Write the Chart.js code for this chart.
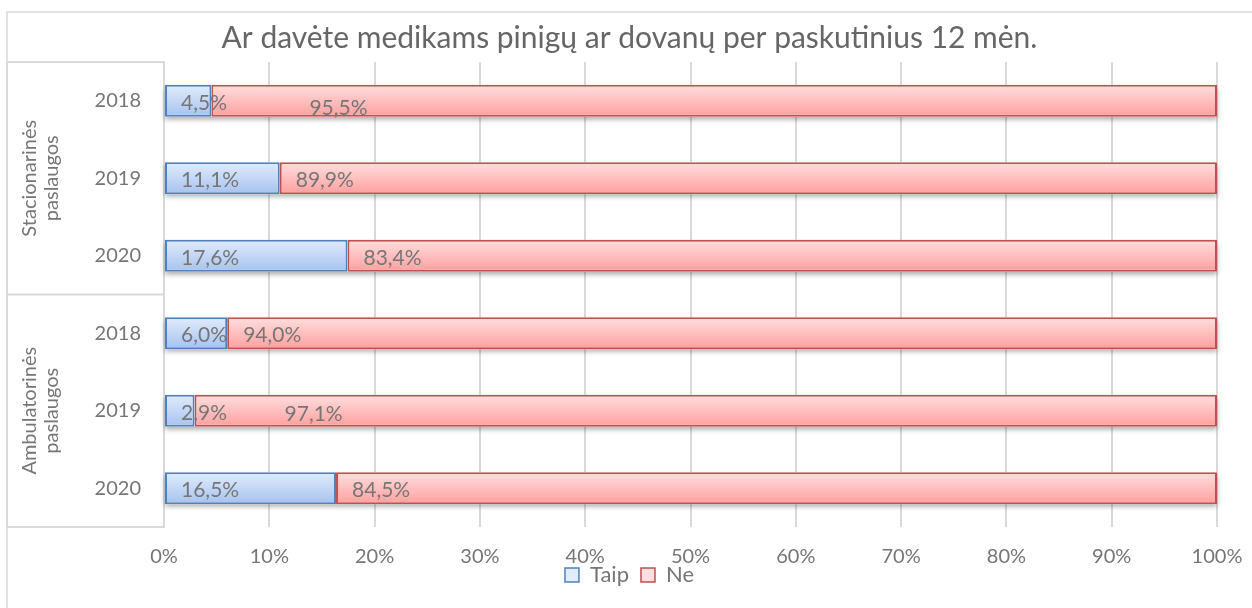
<!DOCTYPE html>
<html>
<head>
<meta charset="utf-8">
<script src="https://cdn.jsdelivr.net/npm/chart.js@4"></script>
<style>
  html, body { margin: 0; padding: 0; background: #fff; }
  #wrap { width: 1252px; height: 608px; }
</style>
</head>
<body>
<div id="wrap"><canvas id="myChart" width="1252" height="608"></canvas></div>
<script>
const titleText = 'Ar davėte medikams pinigų ar dovanų per paskutinius 12 mėn.';
const groups = ['Stacionarinės paslaugos', 'Ambulatorinės paslaugos'];
const years = ['2018', '2019', '2020'];
const taip = [4.5, 11.1, 17.6, 6.0, 2.9, 16.5];
const ne = [95.5, 89.9, 83.4, 94.0, 97.1, 84.5];
const xTicks = [0, 10, 20, 30, 40, 50, 60, 70, 80, 90, 100];

// category labels: years repeated per group
const labels = [];
groups.forEach(() => years.forEach(y => labels.push(y)));

// 100% stacked, like Excel
function share(a, b) {
    return a.map((v, i) => v / (v + b[i]) * 100);
}

const FONT = 'Lato';
const GRAY = '#767676';
const LINE = '#d9d9d9';
const fills = [['#e1ecfc', '#a6c2ef'], ['#ffdfdf', '#ff9e9e']];

// labels that were moved by hand in the original
const labelNudge = { '1-0': [82, 5], '1-4': [74, 1] };

// vertical gradient fill + soft shadow under each bar
const barLook = {
    id: 'barLook',
    beforeDatasetsDraw(chart) {
        const c = chart.ctx;
        const metas = chart.data.datasets.map((d, i) => chart.getDatasetMeta(i));
        c.save();
        c.shadowColor = 'rgba(0,0,0,0.32)';
        c.shadowBlur = 5;
        c.shadowOffsetY = 3;
        c.fillStyle = '#fff';
        metas[0].data.forEach((bar, i) => {
            const last = metas[metas.length - 1].data[i];
            const h = bar.height;
            c.fillRect(bar.base, bar.y - h / 2, last.x - bar.base, h);
        });
        c.restore();
        metas.forEach((meta, di) => {
            meta.data.forEach(bar => {
                const h = bar.height;
                const g = c.createLinearGradient(0, bar.y - h / 2, 0, bar.y + h / 2);
                g.addColorStop(0, fills[di][0]);
                g.addColorStop(1, fills[di][1]);
                bar.options.backgroundColor = g;
            });
        });
    }
};

const valueLabels = {
    id: 'valueLabels',
    afterDatasetsDraw(chart) {
        const c = chart.ctx;
        c.save();
        c.font = '21px ' + FONT;
        c.fillStyle = GRAY;
        c.textBaseline = 'middle';
        c.textAlign = 'left';
        const raw = [taip, ne];
        chart.data.datasets.forEach((ds, di) => {
            chart.getDatasetMeta(di).data.forEach((bar, i) => {
                const left = Math.min(bar.x, bar.base);
                const n = labelNudge[di + '-' + i] || [0, 0];
                const txt = raw[di][i].toFixed(1).replace('.', ',') + '%';
                c.fillText(txt, left + 16 + n[0], bar.y + 2 + n[1]);
            });
        });
        c.restore();
    }
};

const categoryTable = {
    id: 'categoryTable',
    afterLayout(chart) {
        // let the x labels reach under the legend without being clipped
        chart.scales.x.bottom = chart.scales.x.top + 50;
    },
    beforeDraw(chart) {
        const c = chart.ctx;
        const a = chart.chartArea;
        const y = chart.scales.y;
        const x0 = 7;
        c.save();
        // outer frame
        c.strokeStyle = LINE;
        c.lineWidth = 1.5;
        c.beginPath();
        c.moveTo(x0, chart.height + 5);
        c.lineTo(x0, 12);
        c.lineTo(chart.width + 5, 12);
        c.stroke();
        // table lines
        c.lineWidth = 2;
        c.beginPath();
        const step = y.getPixelForValue(1) - y.getPixelForValue(0);
        for (let g = 0; g <= groups.length; g++) {
            const yy = y.getPixelForValue(g * years.length) - step / 2;
            c.moveTo(x0, yy);
            c.lineTo(a.left, yy);
        }
        c.moveTo(x0, a.top);
        c.lineTo(x0, a.bottom);
        c.stroke();
        // group labels, rotated, two lines
        c.fillStyle = GRAY;
        c.font = '20px ' + FONT;
        c.textAlign = 'center';
        c.textBaseline = 'middle';
        groups.forEach((name, g) => {
            const mid = y.getPixelForValue(g * years.length + 1);
            const parts = name.split(' ');
            c.save();
            c.translate(41, mid);
            c.rotate(-Math.PI / 2);
            c.fillText(parts[0], 0, -11);
            c.fillText(parts[1], 0, 11);
            c.restore();
        });
        c.restore();
    }
};

const ctx = document.getElementById('myChart');

new Chart(ctx, {
    type: 'bar',
    data: {
        labels: labels,
        datasets: [{
            label: 'Taip',
            data: share(taip, ne),
            backgroundColor: () => fills[0][1],
            borderColor: '#4f81bd',
            borderWidth: 2,
            borderSkipped: false
        }, {
            label: 'Ne',
            data: share(ne, taip),
            backgroundColor: () => fills[1][1],
            borderColor: '#c0504d',
            borderWidth: 2,
            borderSkipped: false
        }]
    },
    options: {
        indexAxis: 'y',
        responsive: false,
        animation: false,
        layout: { padding: { top: 12, left: 7, right: 0, bottom: 12 } },
        datasets: { bar: { categoryPercentage: 1, barPercentage: 0.413 } },
        scales: {
            x: {
                stacked: true,
                min: 0,
                max: 100,
                afterBuildTicks: s => { s.ticks = xTicks.map(v => ({ value: v })); },
                ticks: {
                    callback: v => v + '%',
                    color: GRAY,
                    font: { family: FONT, size: 20 },
                    padding: 18,
                    maxRotation: 0
                },
                grid: { color: LINE, lineWidth: 2, drawTicks: false },
                border: { display: false },
                afterFit: s => { s.height = 25; s.paddingRight = 35; }
            },
            y: {
                stacked: true,
                ticks: {
                    color: GRAY,
                    font: { family: FONT, size: 20 },
                    padding: 23
                },
                grid: { display: false, drawTicks: false },
                border: { color: LINE, width: 2 },
                afterFit: s => { s.width = 157; }
            }
        },
        plugins: {
            title: {
                display: true,
                text: titleText,
                color: '#666',
                font: { family: FONT, size: 30, weight: 'normal' },
                padding: { top: 8, bottom: 6 }
            },
            legend: {
                position: 'bottom',
                labels: {
                    color: GRAY,
                    font: { family: FONT, size: 22 },
                    boxWidth: 14,
                    boxHeight: 14,
                    padding: 12,
                    generateLabels: chart =>
                        Chart.defaults.plugins.legend.labels.generateLabels(chart).map((it, i) => {
                            it.fillStyle = fills[i][0];
                            it.lineWidth = 1.5;
                            return it;
                        })
                }
            },
            tooltip: { enabled: false }
        }
    },
    plugins: [categoryTable, barLook, valueLabels]
});
</script>
</body>
</html>
